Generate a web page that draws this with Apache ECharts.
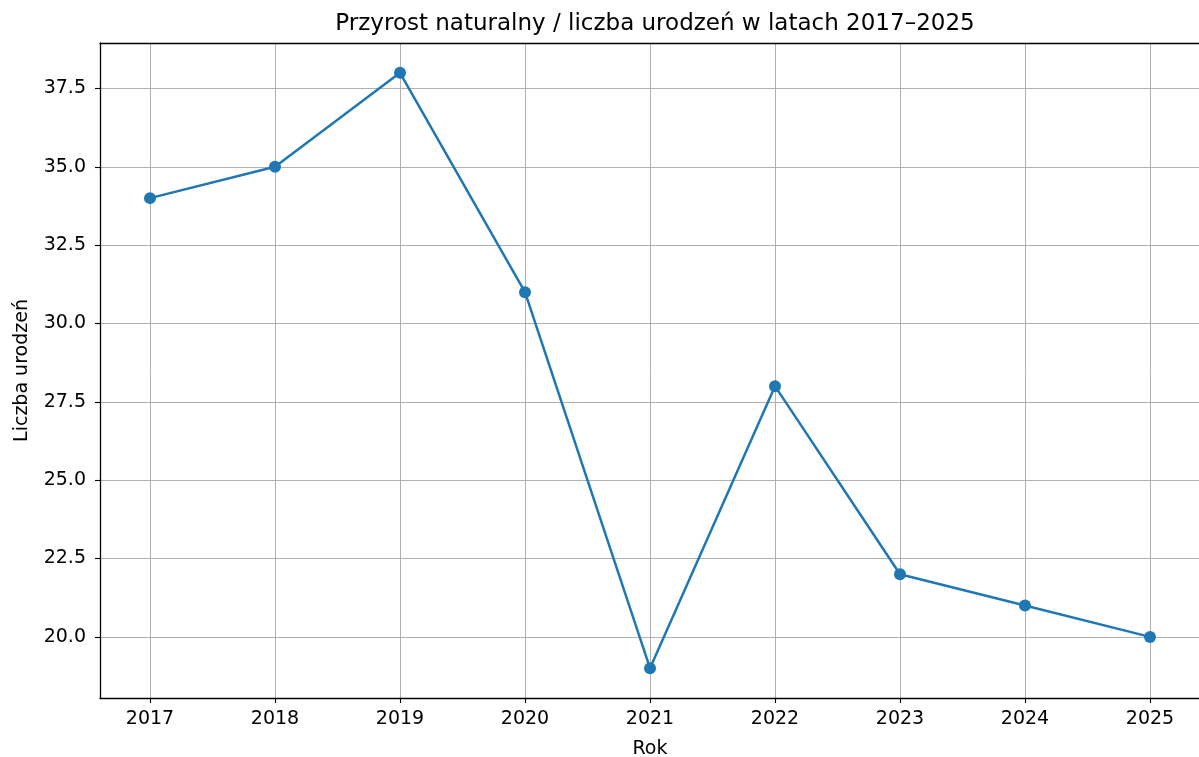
<!DOCTYPE html>
<html>
<head>
<meta charset="utf-8">
<script src="https://cdn.jsdelivr.net/npm/echarts@6/dist/echarts.min.js"></script>
<style>html,body{margin:0;padding:0;background:#fff;}#c{width:1199px;height:757px;}</style>
</head>
<body>
<div id="c"></div>
<script>
const years = [2017, 2018, 2019, 2020, 2021, 2022, 2023, 2024, 2025];
const births = [34, 35, 38, 31, 19, 28, 22, 21, 20];
const yTicks = [20, 22.5, 25, 27.5, 30, 32.5, 35, 37.5];
const titleText = 'Przyrost naturalny / liczba urodzeń w latach 2017–2025';
const xName = 'Rok';
const yName = 'Liczba urodzeń';

const font = 'DejaVu Sans';
const chart = echarts.init(document.getElementById('c'), null, {renderer: 'canvas'});
chart.setOption({
  animation: false,
  backgroundColor: '#fff',
  title: {
    text: titleText, left: 650, top: 8, textAlign: 'center',
    textStyle: {fontFamily: font, fontSize: 23, fontWeight: 'normal', color: '#000'}
  },
  grid: {left: 100, top: 43, width: 1100, height: 655, containLabel: false, outerBoundsMode: 'none'},
  xAxis: [{
    type: 'value', min: 2016.6, max: 2025.4,
    name: xName, nameLocation: 'middle', nameGap: 42,
    nameTextStyle: {fontFamily: font, fontSize: 19, color: '#000'},
    axisLine: {show: true, onZero: false, lineStyle: {color: '#000', width: 1.3}},
    axisTick: {show: true, customValues: years, length: 5, lineStyle: {color: '#000', width: 1.1}},
    axisLabel: {customValues: years, fontFamily: font, fontSize: 19, color: '#000', margin: 12, formatter: v => String(v)},
    splitLine: {show: true, lineStyle: {color: '#b0b0b0', width: 1}}
  }, {
    type: 'value', min: 2016.6, max: 2025.4, position: 'top',
    axisLine: {show: true, onZero: false, lineStyle: {color: '#000', width: 1.3}},
    axisTick: {show: false}, axisLabel: {show: false}, splitLine: {show: false}
  }],
  yAxis: {
    type: 'value', min: 18.05, max: 38.95,
    name: yName, nameLocation: 'middle', nameGap: 68, nameRotate: 90,
    nameTextStyle: {fontFamily: font, fontSize: 19, color: '#000'},
    axisLine: {show: true, lineStyle: {color: '#000', width: 1.3}},
    axisTick: {show: true, customValues: yTicks, length: 5, lineStyle: {color: '#000', width: 1.1}},
    axisLabel: {customValues: yTicks, fontFamily: font, fontSize: 19, color: '#000', margin: 14, formatter: v => v.toFixed(1)},
    splitLine: {show: true, lineStyle: {color: '#b0b0b0', width: 1}}
  },
  series: [{
    type: 'line', xAxisIndex: 0,
    data: years.map((y, i) => [y, births[i]]),
    symbol: 'circle', symbolSize: 12,
    lineStyle: {color: '#1f77b4', width: 2.5},
    itemStyle: {color: '#1f77b4'}
  }]
});
</script>
</body>
</html>
